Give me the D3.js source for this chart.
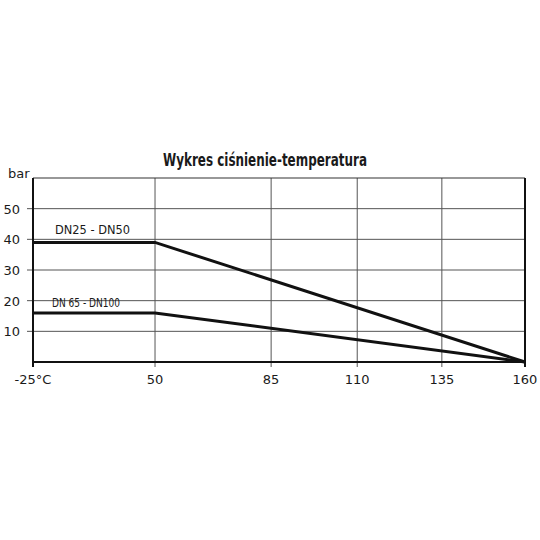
<!DOCTYPE html>
<html>
<head>
<meta charset="utf-8">
<script src="https://cdn.jsdelivr.net/npm/d3@7"></script>
<style>
  body { margin: 0; background: #fff; }
  text { font-family: "DejaVu Sans", sans-serif; fill: #1a1a1a; }
</style>
</head>
<body>
<div id="chart"></div>
<script>
// x ticks are not evenly spaced in value, so the scale is piecewise
var temps = [-25, 50, 85, 110, 135, 160];
var tempLabels = ["-25°C", "50", "85", "110", "135", "160"];
var tempFrac = [0, 0.248, 0.484, 0.659, 0.831, 1];
var pressTicks = [10, 20, 30, 40, 50];

var dn25_t = [-25, 50, 160];
var dn25_p = [39, 39, 0];
var dn65_t = [-25, 50, 160];
var dn65_p = [16, 16, 0];

var margin = { top: 178, left: 33 };
var width = 492;
var height = 184;

var x = d3.scaleLinear().domain(temps).range(tempFrac.map(function (f) { return f * width; }));
var y = d3.scaleLinear().domain([0, 60]).range([height, 0]);

var svg = d3.select("#chart").append("svg")
  .attr("width", 540).attr("height", 540);

svg.append("text")
  .attr("x", 265).attr("y", 166)
  .attr("text-anchor", "middle")
  .attr("font-size", 18).attr("font-weight", "bold")
  .attr("textLength", 204).attr("lengthAdjust", "spacingAndGlyphs")
  .text("Wykres ciśnienie-temperatura");

var g = svg.append("g")
  .attr("transform", "translate(" + margin.left + "," + margin.top + ")");

// grid
g.selectAll(".hgrid").data(pressTicks).enter().append("line")
  .attr("x1", -6).attr("x2", width)
  .attr("y1", function (d) { return y(d); }).attr("y2", function (d) { return y(d); })
  .attr("stroke", "#555").attr("stroke-width", 1);

g.selectAll(".vgrid").data(temps.slice(1, -1)).enter().append("line")
  .attr("x1", function (d) { return x(d); }).attr("x2", function (d) { return x(d); })
  .attr("y1", 0).attr("y2", height + 5)
  .attr("stroke", "#555").attr("stroke-width", 1);

// frame
g.append("line").attr("x1", 0).attr("x2", width).attr("y1", 0).attr("y2", 0)
  .attr("stroke", "#333").attr("stroke-width", 1.2);
g.append("line").attr("x1", width).attr("x2", width).attr("y1", 0).attr("y2", height + 5)
  .attr("stroke", "#111").attr("stroke-width", 2);
g.append("line").attr("x1", 0).attr("x2", 0).attr("y1", 0).attr("y2", height + 5)
  .attr("stroke", "#111").attr("stroke-width", 2);
g.append("line").attr("x1", 0).attr("x2", width).attr("y1", height).attr("y2", height)
  .attr("stroke", "#111").attr("stroke-width", 2);

// tick labels
g.selectAll(".ylab").data(pressTicks).enter().append("text")
  .attr("x", -13).attr("y", function (d) { return y(d) + 5; })
  .attr("text-anchor", "end").attr("font-size", 13)
  .text(function (d) { return d; });

svg.append("text").attr("x", 8).attr("y", 178)
  .attr("font-size", 13).text("bar");

g.selectAll(".xlab").data(temps).enter().append("text")
  .attr("x", function (d) { return x(d); }).attr("y", height + 22)
  .attr("text-anchor", "middle").attr("font-size", 13)
  .text(function (d, i) { return tempLabels[i]; });

// series
var line = d3.line()
  .x(function (d) { return x(d[0]); })
  .y(function (d) { return y(d[1]); });

g.append("path")
  .attr("d", line(d3.zip(dn25_t, dn25_p)))
  .attr("fill", "none").attr("stroke", "#111").attr("stroke-width", 3);
g.append("path")
  .attr("d", line(d3.zip(dn65_t, dn65_p)))
  .attr("fill", "none").attr("stroke", "#111").attr("stroke-width", 3);

g.append("text").attr("x", x(-25) + 22).attr("y", y(39) - 8)
  .attr("font-size", 13).attr("textLength", 75).attr("lengthAdjust", "spacingAndGlyphs")
  .text("DN25 - DN50");
g.append("text").attr("x", x(-25) + 19).attr("y", y(16) - 6)
  .attr("font-size", 13).attr("textLength", 68).attr("lengthAdjust", "spacingAndGlyphs")
  .text("DN 65 - DN100");
</script>
</body>
</html>
